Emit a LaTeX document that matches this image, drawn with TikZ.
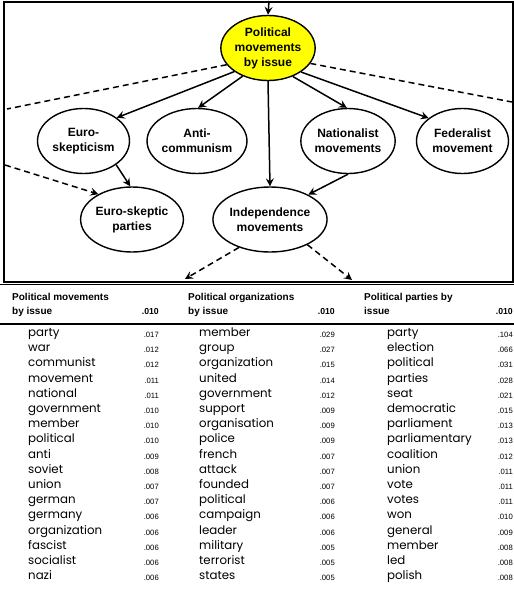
\documentclass[tikz,border=0pt]{standalone}
\usepackage{fontspec}
\setmainfont{Liberation Sans}
\newfontfamily\wordfont{Poppins}
\usetikzlibrary{shapes.geometric,arrows.meta}
\definecolor{topicyellow}{RGB}{255,255,0}
\tikzset{
  topic/.style={draw,ellipse,line width=1.4pt,inner sep=0pt,minimum width=92pt,
    minimum height=65pt,align=center,font=\fontsize{12}{15}\selectfont\bfseries},
  link/.style={-{Stealth[length=8pt,width=8pt,inset=3pt]},line width=1.5pt},
  dlink/.style={link,dash pattern=on 6pt off 4pt},
  dline/.style={line width=1.5pt,dash pattern=on 6pt off 4pt},
  head/.style={anchor=base west,inner sep=0pt,font=\fontsize{10}{13}\selectfont\bfseries},
  headprob/.style={anchor=base east,inner sep=0pt,font=\fontsize{8.7}{10}\selectfont\bfseries},
  word/.style={anchor=base west,inner sep=0pt,font=\wordfont\fontsize{11.8}{14}\selectfont},
  prob/.style={anchor=base east,inner sep=0pt,font=\fontsize{7.7}{9}\selectfont}
}
\begin{document}
\begin{tikzpicture}[x=1pt,y=-1pt]
    \useasboundingbox (0,0) rectangle (514,590);
    % frame and rules
    \draw[line width=1.2pt] (4,2) rectangle (513,282);
    \draw[line width=1.8pt] (0,284.5) -- (514,284.5);
    \draw[line width=1.3pt] (0,324) -- (514,324);
    % topic nodes
    \node[topic,fill=topicyellow] (pol) at (268,48) {Political\\movements\\by issue};
    \node[topic] (euro) at (83.5,141) {Euro-\\skepticism};
    \node[topic] (anti) at (197,141) {Anti-\\communism};
    \node[topic] (nat) at (348,141) {Nationalist\\movements};
    \node[topic] (fed) at (462.5,141) {Federalist\\movement};
    \node[topic] (eparty) at (132,219.5) {Euro-skeptic\\parties};
    \node[topic,minimum width=98pt] (indep) at (270,219.5) {Independence\\movements};
    % loose ends
    \coordinate (in) at (269,1);
    \coordinate (outl) at (7,109);
    \coordinate (outr) at (512,102);
    \coordinate (inl) at (5,165);
    \coordinate (downl) at (185,279);
    \coordinate (downr) at (352,280);
    % connectors
    \draw[link] (in) -- (pol.north);
    \draw[link] (pol.215) -- (euro.35);
    \draw[link] (pol.228) -- (anti.88);
    \draw[link] (pol.south) -- (indep.north);
    \draw[link] (pol.311) -- (nat.92);
    \draw[link] (pol.324) -- (fed.146);
    \draw[link] (euro.324) -- (eparty.93);
    \draw[link] (nat.south) -- (indep.33);
    \draw[dline] (pol.202) -- (outl);
    \draw[dline] (pol.340) -- (outr);
    \draw[dlink] (inl) -- (eparty.143);
    \draw[dlink] (indep.222) -- (downl);
    \draw[dlink] (indep.326) -- (downr);
    % table headers
    \node[head] (h1a) at (12,300.5) {Political movements};
    \node[head] (h1b) at (12,314) {by issue};
    \node[headprob] (h1p) at (159,314) {.010};
    \node[head] (h2a) at (188,300.5) {Political organizations};
    \node[head] (h2b) at (188,314) {by issue};
    \node[headprob] (h2p) at (335,314) {.010};
    \node[head] (h3a) at (364,300.5) {Political parties by};
    \node[head] (h3b) at (364,314) {issue};
    \node[headprob] (h3p) at (513,314) {.010};
    % word lists
    \foreach \w/\p [count=\i] in {party/.017,war/.012,communist/.012,movement/.011,
        national/.011,government/.010,member/.010,political/.010,anti/.009,soviet/.008,
        union/.007,german/.007,germany/.006,organization/.006,fascist/.006,
        socialist/.006,nazi/.006}
    {
        \node[word] (wa\i) at (28,{336.5+15.2*(\i-1)}) {\w};
        \node[prob] (pa\i) at (159,{337.5+15.2*(\i-1)}) {\p};
    }
    \foreach \w/\p [count=\i] in {member/.029,group/.027,organization/.015,united/.014,
        government/.012,support/.009,organisation/.009,police/.009,french/.007,
        attack/.007,founded/.007,political/.006,campaign/.006,leader/.006,
        military/.005,terrorist/.005,states/.005}
    {
        \node[word] (wb\i) at (199,{336.5+15.2*(\i-1)}) {\w};
        \node[prob] (pb\i) at (335,{337.5+15.2*(\i-1)}) {\p};
    }
    \foreach \w/\p [count=\i] in {party/.104,election/.066,political/.031,parties/.028,
        seat/.021,democratic/.015,parliament/.013,parliamentary/.013,coalition/.012,
        union/.011,vote/.011,votes/.011,won/.010,general/.009,member/.008,led/.008,
        polish/.008}
    {
        \node[word] (wc\i) at (387,{336.5+15.2*(\i-1)}) {\w};
        \node[prob] (pc\i) at (513,{337.5+15.2*(\i-1)}) {\p};
    }
\end{tikzpicture}
\end{document}
